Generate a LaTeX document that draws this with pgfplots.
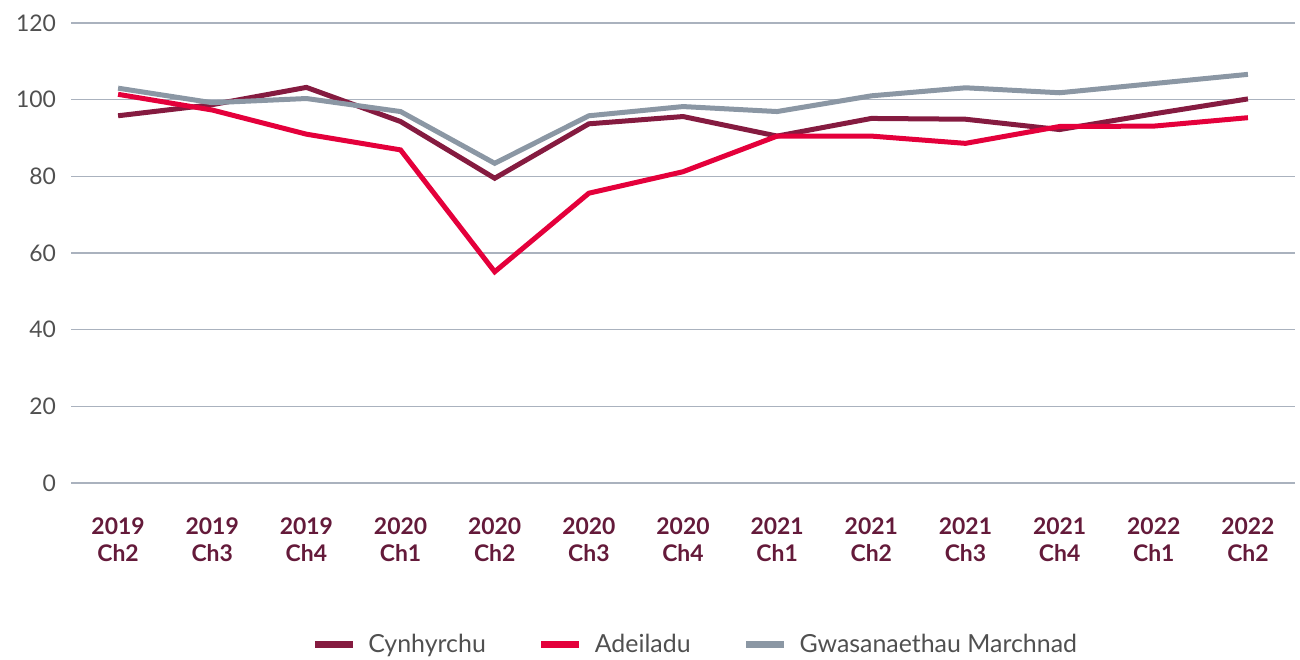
\documentclass[border=0pt]{standalone}
\usepackage{fontspec}
\setmainfont{Lato}
\usepackage{pgfplots}
\pgfplotsset{compat=1.18}
\definecolor{cMaroon}{RGB}{133,27,64}
\definecolor{cRed}{RGB}{228,0,59}
\definecolor{cGrey}{RGB}{139,151,164}
\definecolor{cGrid}{RGB}{170,178,190}
\definecolor{cLabel}{RGB}{100,26,58}
\definecolor{cText}{RGB}{80,80,80}

\begin{document}
\begin{tikzpicture}
\path[use as bounding box] (-35.5bp,-88.5bp) rectangle (614.5bp,241.5bp);
\begin{axis}[
    scale only axis,
    width=612bp, height=230bp,
    xmin=-0.5, xmax=12.5,
    ymin=0, ymax=120,
    ytick={0,20,...,120},
    xtick={0,...,12},
    xticklabels={{2019\\Ch2},{2019\\Ch3},{2019\\Ch4},{2020\\Ch1},{2020\\Ch2},{2020\\Ch3},{2020\\Ch4},{2021\\Ch1},{2021\\Ch2},{2021\\Ch3},{2021\\Ch4},{2022\\Ch1},{2022\\Ch2}},
    xticklabel style={font=\fontsize{11.5}{13.5}\selectfont\bfseries, text=cLabel, align=center, yshift=-14bp},
    yticklabel style={font=\fontsize{11.5}{13}\selectfont, text=cText, xshift=-4bp},
    /pgf/number format/assume math mode=true,
    axis line style={draw=none},
    major tick length=0pt,
    ymajorgrids,
    grid style={cGrid, line width=0.6bp},
    legend style={at={(0.514,-0.352)}, anchor=center, draw=none, fill=none,
                  font=\fontsize{12.5}{14}\selectfont, text=cText,
                  nodes={inner xsep=6bp},
                  /tikz/every even column/.append style={column sep=20bp}},
    legend columns=3,
    legend image code/.code={\draw[#1, line width=3.5bp] (0bp,0bp) -- (19bp,0bp);},
]
\addplot[cMaroon, line width=2.5bp] coordinates {
    (0,95.8) (1,98.7) (2,103.2) (3,94.3) (4,79.5) (5,93.7) (6,95.6)
    (7,90.5) (8,95.1) (9,94.9) (10,92.2) (11,96.3) (12,100.2)
};
\addlegendentry{Cynhyrchu}
\addplot[cRed, line width=2.5bp] coordinates {
    (0,101.4) (1,97.3) (2,91.0) (3,86.9) (4,55.1) (5,75.6) (6,81.2)
    (7,90.5) (8,90.5) (9,88.6) (10,93.0) (11,93.1) (12,95.3)
};
\addlegendentry{Adeiladu}
\addplot[cGrey, line width=2.5bp] coordinates {
    (0,103.0) (1,99.2) (2,100.3) (3,96.9) (4,83.4) (5,95.8) (6,98.2)
    (7,96.9) (8,101.0) (9,103.1) (10,101.8) (11,104.2) (12,106.6)
};
\addlegendentry{Gwasanaethau Marchnad}
\end{axis}
\end{tikzpicture}
\end{document}
